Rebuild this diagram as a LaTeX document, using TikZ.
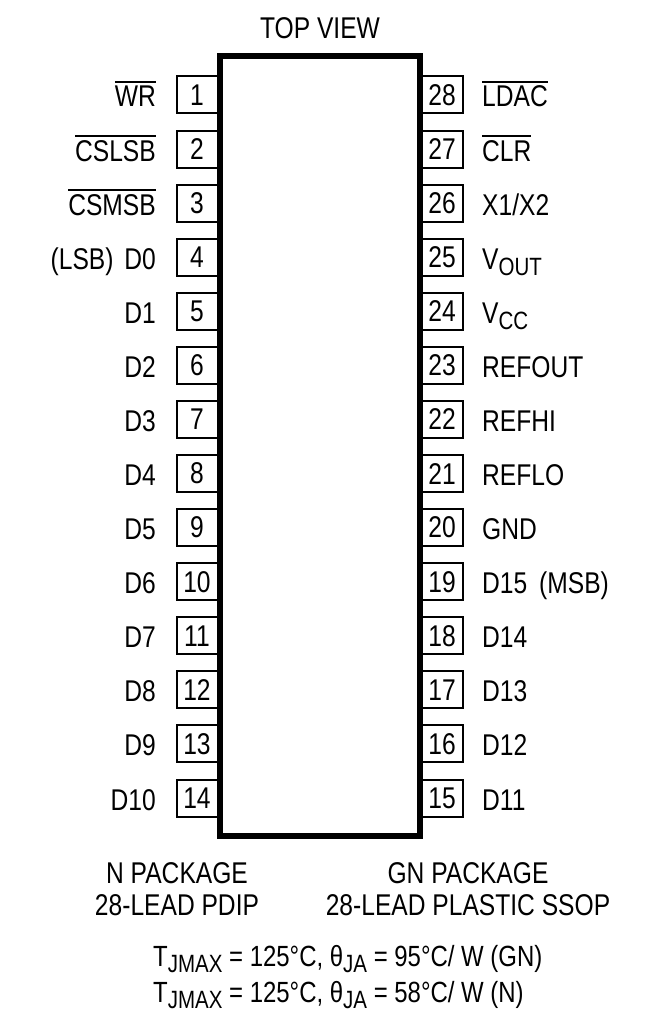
\documentclass[tikz,border=0pt]{standalone}
\usepackage{fontspec}
\setmainfont[FakeStretch=0.82]{Liberation Sans}
\newcommand{\pinbar}[1]{\leavevmode\vbox{\hrule height 1.5pt\kern 3.5pt\hbox{#1}}}
\newcommand{\pinsub}[1]{\raisebox{-6pt}{\fontsize{25}{28}\selectfont #1}}
\tikzset{
	pinbox/.style={draw, line width=2pt, minimum width=41pt, minimum height=37pt, inner sep=0pt},
	pintext/.style={inner sep=0pt, anchor=base},
	thermtext/.style={pintext, anchor=base west, font=\fontsize{29.2}{32}\selectfont},
}
\begin{document}
\begin{tikzpicture}[
		x=1pt, y=-1pt,
		every node/.style={
				font=\fontsize{30}{33}\selectfont,
			},]
	\useasboundingbox (0,0) rectangle (665,1027);
	\foreach \num/\txt [count=\i from 0] in {1/\pinbar{WR},2/\pinbar{CSLSB},3/\pinbar{CSMSB},4/(LSB)\hspace{4pt} D0,5/D1,6/D2,7/D3,8/D4,9/D5,10/D6,11/D7,12/D8,13/D9,14/D10} {
			\node[pinbox] (pin\num) at (197,95+54.08*\i) {\num};
			\node[pintext, anchor=base east] (label\num) at (156,107+54.08*\i) {\txt};
		}
	\foreach \num/\txt [count=\i from 0] in {28/\pinbar{LDAC},27/\pinbar{CLR},26/{X1/X2},25/V\pinsub{OUT},24/V\pinsub{CC},23/REFOUT,22/REFHI,21/REFLO,20/GND,19/D15\hspace{5pt} (MSB),18/D14,17/D13,16/D12,15/D11} {
			\node[pinbox] (pin\num) at (442,95+54.08*\i) {\num};
			\node[pintext, anchor=base west] (label\num) at (482,107+54.08*\i) {\txt};
		}
	\node[draw, line width=6pt, fill=white, minimum width=199.5pt, minimum height=779pt, inner sep=0pt] (chip) at (319.75,446) {};
	\node[pintext] (topview) at (320,39) {TOP VIEW};
	\node[pintext] (npkg) at (177,883) {N PACKAGE};
	\node[pintext] (npdip) at (177,915) {28-LEAD PDIP};
	\node[pintext] (gnpkg) at (468,883) {GN PACKAGE};
	\node[pintext] (gnssop) at (468,915) {28-LEAD PLASTIC SSOP};
	\node[thermtext] (thermgn) at (153,966) {T\pinsub{JMAX} = 125°C, θ\pinsub{JA} = 95°C/ W (GN)};
	\node[thermtext] (thermn) at (153,1002) {T\pinsub{JMAX} = 125°C, θ\pinsub{JA} = 58°C/ W (N)};
\end{tikzpicture}
\end{document}
